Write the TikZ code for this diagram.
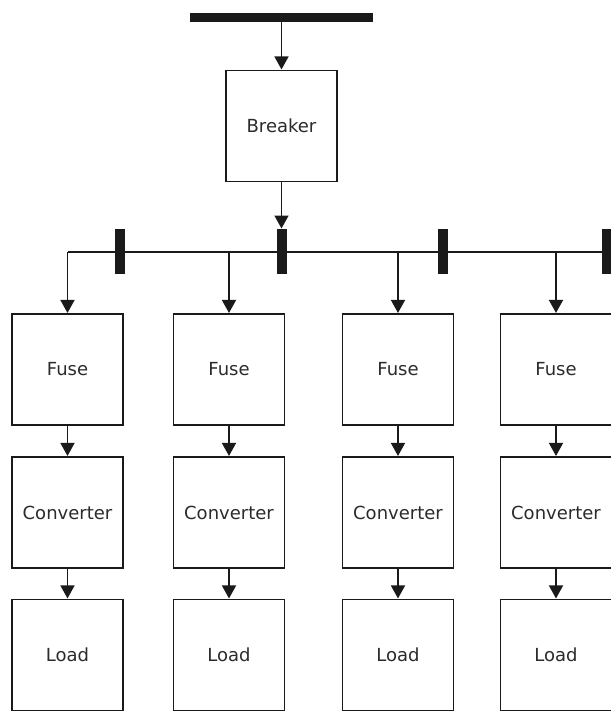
\documentclass[tikz,border=0pt]{standalone}
\usepackage{fontspec}
\setmainfont{DejaVu Sans}
\usetikzlibrary{arrows.meta}
\definecolor{ink}{HTML}{1A1A1A}
\definecolor{txt}{HTML}{2B2B2B}
\tikzset{
  block/.style={draw=ink, line width=1.5pt, fill=white, minimum width=111pt,
    minimum height=111pt, inner sep=0pt, text=txt, font=\fontsize{18}{20}\selectfont},
  busbar/.style={fill=ink, draw=none, inner sep=0pt},
  wire/.style={draw=ink, line width=1.5pt},
  feed/.style={wire, -{Triangle[width=14pt,length=13pt]}, shorten >=0.3pt}
}
\begin{document}
\begin{tikzpicture}[x=1pt, y=-1pt]
\useasboundingbox (0,0) rectangle (611,713);

% incoming supply bus and main breaker
\node[busbar, minimum width=183pt, minimum height=9pt] (supply) at (281.5,17.5) {};
\node[block] (breaker) at (281.5,126) {Breaker};
\draw[feed] (supply.south -| breaker.north) -- (breaker.north);

% distribution bus with section marks
\coordinate (busL) at (67.5,252);
\coordinate (busR) at (612,252);
\draw[wire] (busL) -- (busR);
\foreach \i/\x in {1/120, 2/282, 3/443, 4/607}
  \node[busbar, minimum width=10pt, minimum height=45pt] (bar\i) at (\x,251.5) {};
\draw[feed] (breaker.south) -- (bar2.north -| breaker.south);

% feeder columns: fuse -> converter -> load
\foreach \i/\x in {1/67.5, 2/229, 3/398, 4/556} {
  \node[block] (fuse\i) at (\x,369.5) {Fuse};
  \node[block] (conv\i) at (\x,512.5) {Converter};
  \node[block] (load\i) at (\x,655) {Load};
  \draw[feed] (fuse\i.north |- busL) -- (fuse\i.north);
  \draw[feed] (fuse\i.south) -- (conv\i.north);
  \draw[feed] (conv\i.south) -- (load\i.north);
}
\end{tikzpicture}
\end{document}
